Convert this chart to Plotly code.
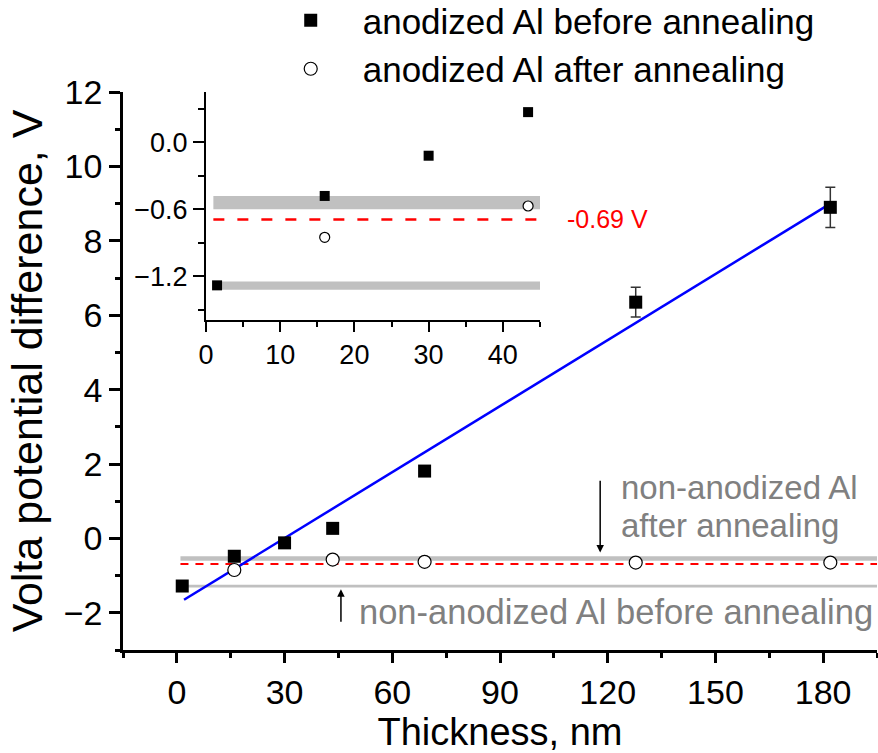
import plotly.graph_objects as go

# ---- data ----
thickness_before = [1.5, 16, 30, 43.4, 69, 127.8, 182]
volta_before = [-1.28, -0.48, -0.12, 0.27, 1.81, 6.35, 8.9]
err_before = [0, 0, 0, 0, 0, 0.4, 0.54]

thickness_after = [16, 43.4, 69, 127.8, 182]
volta_after = [-0.85, -0.57, -0.63, -0.65, -0.65]

fit_x = [2.0, 182.0]
fit_y = [-1.65, 9.0]

band_x = [1.0, 195.0]
band_after = [-0.60, -0.48]   # non-anodized Al after annealing
band_before = [-1.32, -1.245]  # non-anodized Al before annealing
mean_level = -0.69

main_xticks = [0, 30, 60, 90, 120, 150, 180]
main_yticks = [-2, 0, 2, 4, 6, 8, 10, 12]
inset_xticks = [0, 10, 20, 30, 40]
inset_yticks = [-1.2, -0.6, 0.0]

FONT = "Arial, 'Liberation Sans', sans-serif"
GRAY_BAND = "#c0c0c0"
GRAY_TEXT = "#808080"

fig = go.Figure()


def band_trace(lohi, xa, ya):
    xs = [band_x[0], band_x[1], band_x[1], band_x[0], band_x[0]]
    ys = [lohi[0], lohi[0], lohi[1], lohi[1], lohi[0]]
    return go.Scatter(x=xs, y=ys, fill="toself", fillcolor=GRAY_BAND, mode="lines",
                      line=dict(width=0, color=GRAY_BAND), xaxis=xa, yaxis=ya,
                      showlegend=False, hoverinfo="skip")


for xa, ya, dash, dw, msz, show in [("x", "y", "8px,7px", 2, 13, True),
                                    ("x2", "y2", "11px,13px", 2.5, 10, False)]:
    fig.add_trace(band_trace(band_after, xa, ya))
    fig.add_trace(band_trace(band_before, xa, ya))
    fig.add_trace(go.Scatter(x=band_x, y=[mean_level, mean_level], mode="lines",
                             line=dict(color="red", width=dw, dash=dash),
                             xaxis=xa, yaxis=ya, showlegend=False))
    if xa == "x":
        fig.add_trace(go.Scatter(x=fit_x, y=fit_y, mode="lines",
                                 line=dict(color="#0000ff", width=2.5),
                                 xaxis=xa, yaxis=ya, showlegend=False))
    fig.add_trace(go.Scatter(
        x=thickness_before, y=volta_before, mode="markers",
        name="anodized Al before annealing",
        marker=dict(symbol="square", size=msz, color="black"),
        error_y=dict(type="data", array=err_before, visible=(xa == "x"),
                     color="#333333", thickness=1.5, width=5),
        xaxis=xa, yaxis=ya, showlegend=show, legendgroup="a"))
    fig.add_trace(go.Scatter(
        x=thickness_after, y=volta_after, mode="markers",
        name="anodized Al after annealing",
        marker=dict(symbol="circle", size=msz, color="white",
                    line=dict(color="black", width=1.2)),
        xaxis=xa, yaxis=ya, showlegend=show, legendgroup="b"))

axis_common = dict(showgrid=False, zeroline=False, showline=True, linecolor="black",
                   ticks="outside", tickcolor="black", mirror=False)

fig.update_layout(
    width=878, height=753,
    margin=dict(l=123, r=1, t=92, b=103, autoexpand=False),
    paper_bgcolor="white", plot_bgcolor="white",
    font=dict(family=FONT, color="black"),
    xaxis=dict(**axis_common, range=[-15, 195], tickvals=main_xticks,
               linewidth=2.5, tickwidth=2.5, ticklen=10,
               tickfont=dict(size=34),
               minor=dict(dtick=15, tick0=-15, ticks="outside", ticklen=5,
                          tickwidth=2.5, tickcolor="black"),
               title=dict(text="Thickness, nm", font=dict(size=38), standoff=8)),
    yaxis=dict(**axis_common, range=[-3, 12], tickvals=main_yticks,
               linewidth=2.5, tickwidth=2.5, ticklen=11,
               tickfont=dict(size=34),
               minor=dict(dtick=1, tick0=-3, ticks="outside", ticklen=5,
                          tickwidth=2.5, tickcolor="black"),
               title=dict(text="Volta potential difference, V", font=dict(size=43),
                          standoff=8)),
    xaxis2=dict(**axis_common, domain=[0.110, 0.553], anchor="y2", range=[0, 45],
                tickvals=inset_xticks, linewidth=2, tickwidth=2, ticklen=10,
                tickfont=dict(size=27),
                minor=dict(dtick=5, tick0=0, ticks="outside", ticklen=5,
                           tickwidth=2, tickcolor="black")),
    yaxis2=dict(**axis_common, domain=[0.5914, 1.0], anchor="x2", range=[-1.59, 0.45],
                tickvals=inset_yticks, tickformat=".1f", linewidth=2, tickwidth=2,
                ticklen=11, tickfont=dict(size=27),
                minor=dict(dtick=0.3, tick0=0.0, ticks="outside", ticklen=6,
                           tickwidth=2, tickcolor="black")),
    legend=dict(x=0.18, xanchor="left", y=1.181, yanchor="top",
                bgcolor="rgba(0,0,0,0)", font=dict(size=35, family=FONT),
                itemwidth=94, tracegroupgap=0, traceorder="grouped"),
    showlegend=True,
)

annotations = [
    dict(x=0.586, y=mean_level, xref="paper", yref="y2", text="-0.69 V", showarrow=False,
         xanchor="left", yanchor="middle", font=dict(size=25, color="red")),
    dict(x=123.2, y=1.37, xref="x", yref="y", text="non-anodized Al", showarrow=False,
         xanchor="left", yanchor="middle", font=dict(size=33, color=GRAY_TEXT)),
    dict(x=123.2, y=0.35, xref="x", yref="y", text="after annealing", showarrow=False,
         xanchor="left", yanchor="middle", font=dict(size=33, color=GRAY_TEXT)),
    dict(x=50.2, y=-1.99, xref="x", yref="y", text="non-anodized Al before annealing",
         showarrow=False, xanchor="left", yanchor="middle",
         font=dict(size=34.5, color=GRAY_TEXT)),
    dict(x=117.9, y=-0.38, ax=117.9, ay=1.59, xref="x", yref="y", axref="x", ayref="y",
         text="", showarrow=True, arrowhead=2, arrowsize=1, arrowwidth=1.5,
         arrowcolor="black"),
    dict(x=45.7, y=-1.37, ax=45.7, ay=-2.28, xref="x", yref="y", axref="x", ayref="y",
         text="", showarrow=True, arrowhead=2, arrowsize=1, arrowwidth=1.5,
         arrowcolor="black"),
]
fig.update_layout(annotations=annotations)

fig.write_html("out.html")
